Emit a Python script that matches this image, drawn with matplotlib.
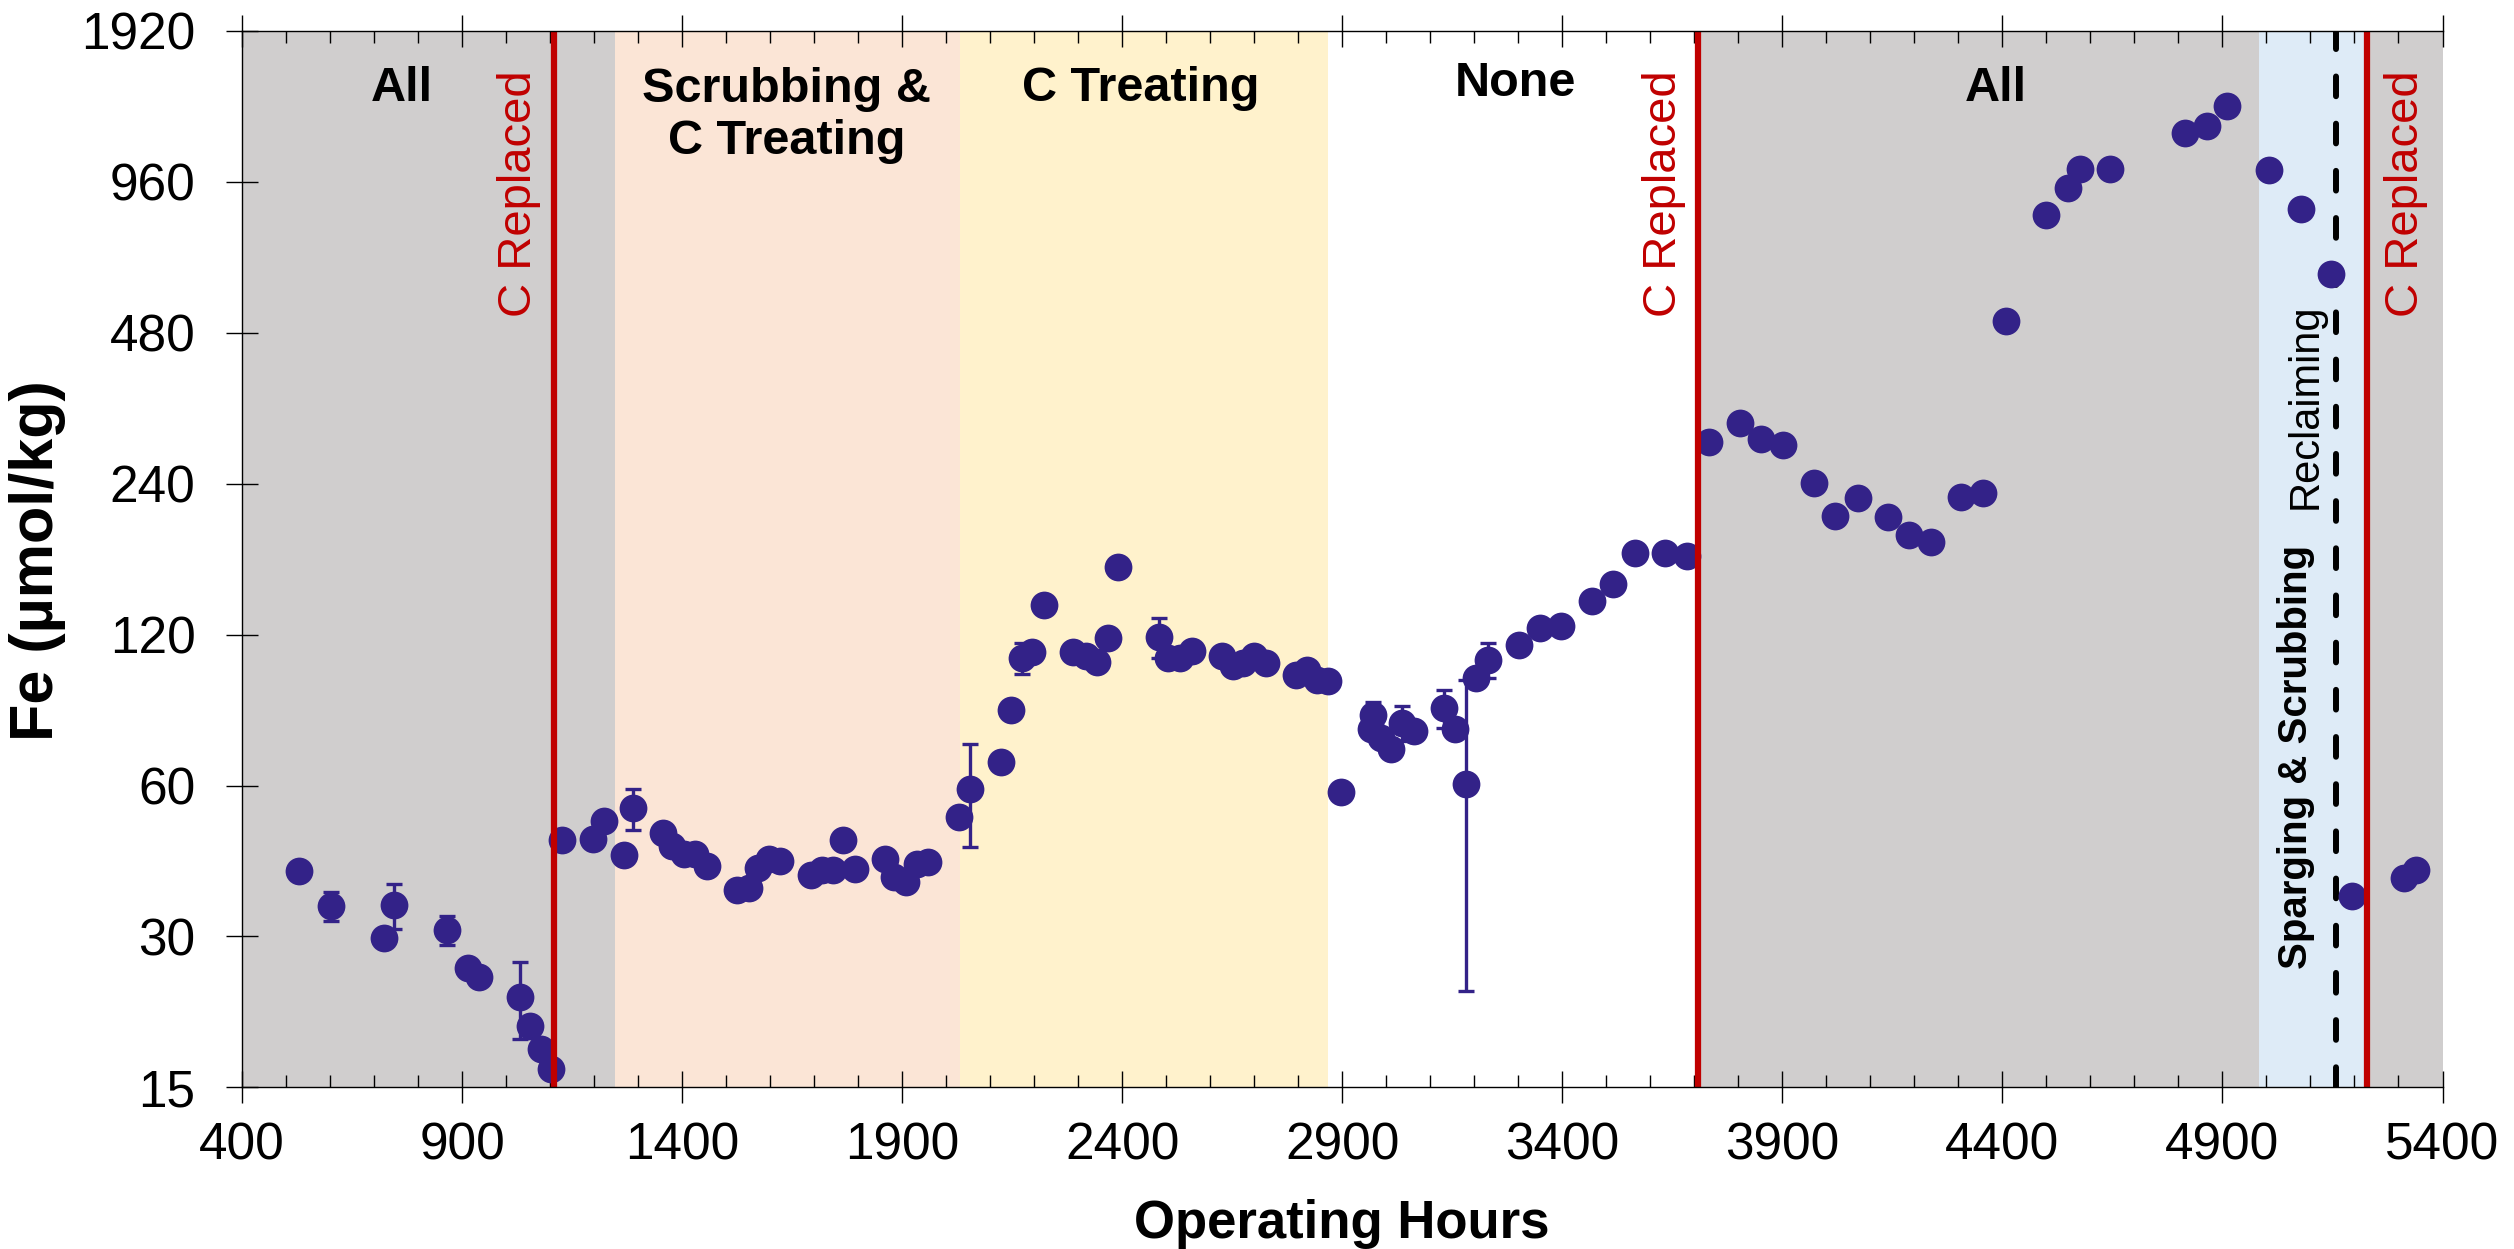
import matplotlib
matplotlib.use('Agg')
import matplotlib.pyplot as plt
from matplotlib.ticker import FixedLocator, MultipleLocator, NullLocator
from matplotlib import font_manager
import matplotlib.transforms as mtransforms
import numpy as np

plt.rcParams['font.family'] = ['Liberation Sans', 'DejaVu Sans']

# ---------------- data ----------------
hours = [529, 602, 723, 746, 865, 913, 938, 1031, 1055, 1079, 1102,
         1127, 1198, 1222, 1268, 1289, 1356, 1378, 1405, 1428, 1456,
         1525, 1551, 1573, 1598, 1623, 1692, 1717, 1743, 1765, 1792,
         1860, 1882, 1908, 1934, 1959, 2028, 2054, 2124, 2147, 2172,
         2195, 2223, 2289, 2317, 2343, 2367, 2391, 2484, 2505, 2531,
         2558, 2627, 2651, 2675, 2700, 2727, 2794, 2819, 2842, 2867,
         2897, 2965, 2969, 2988, 3011, 3035, 3063, 3132, 3156, 3181,
         3204, 3232, 3302, 3350, 3398, 3467, 3516, 3566, 3634, 3683,
         3734, 3804, 3851, 3901, 3971, 4019, 4071, 4139, 4187, 4238,
         4307, 4355, 4408, 4500, 4549, 4576, 4645, 4816, 4864, 4910,
         5005, 5079, 5147, 5194, 5313, 5339]
fe = [40.6, 34.5, 29.8, 34.6, 30.9, 25.9, 24.9, 22.7, 19.9, 17.9, 16.3,
      46.8, 46.9, 51.0, 43.7, 54.0, 48.3, 45.5, 43.9, 43.9, 41.4,
      37.2, 37.5, 41.1, 42.8, 42.5, 39.8, 40.7, 40.7, 46.8, 40.8,
      42.8, 39.4, 38.6, 41.8, 42.3, 51.9, 59.0, 66.9, 84.7, 107.8,
      110.6, 137.7, 110.6, 108.8, 106.0, 118.0, 164.0, 118.7, 107.8, 107.8,
      111.3, 108.8, 103.7, 105.3, 108.8, 105.3, 99.8, 102.0, 97.2, 96.8,
      58.2, 77.7, 83.0, 74.6, 71.1, 80.0, 76.9, 85.6, 77.7, 60.4,
      98.3, 106.9, 114.5, 123.5, 125.0, 140.0, 151.7, 174.8, 174.8, 172.0,
      291.0, 317.0, 295.0, 286.0, 241.0, 207.0, 225.0, 206.0, 189.4, 183.4,
      226.0, 230.0, 506.0, 823.0, 933.0, 1018.0, 1018.0, 1200.0, 1240.0, 1361.0,
      1014.0, 849.0, 628.0, 36.2, 39.2, 40.7]
fe_err = [0, 2.3, 0, 3.6, 2.0, 0, 0, 4.0, 0, 0, 0,
          0, 0, 0, 0, 5.0, 0, 0, 0, 0, 0,
          0, 0, 0, 0, 0, 0, 0, 0, 0, 0,
          0, 0, 0, 0, 0, 0, 13.7, 0, 0, 7.6,
          0, 0, 0, 0, 0, 0, 0, 10.8, 0, 0,
          0, 0, 0, 0, 0, 0, 0, 0, 0, 0,
          0, 0, 5.2, 0, 2.4, 6.3, 0, 7.5, 0, 37.0,
          0, 8.8, 0, 0, 0, 0, 0, 0, 0, 0,
          0, 0, 0, 0, 0, 0, 0, 0, 0, 0,
          0, 0, 0, 0, 0, 0, 0, 0, 0, 0,
          0, 0, 0, 0, 0, 0]

region_bounds = [400, 1248, 2031, 2867, 3709, 4982, 5228, 5400]
region_colors = ['#D0CECE', '#FBE5D6', '#FFF2CC', '#FFFFFF', '#D0CECE', '#DEEBF7', '#D0CECE']
region_labels = ['All', 'Scrubbing &\nC Treating', 'C Treating', 'None', 'All']
region_label_x = [763, 1637, 2443, 3293, 4385]
region_label_y = [0.967, 0.966, 0.967, 0.971, 0.967]

replaced_hours = [1108, 3709, 5228]
replaced_label_x = [1030, 3632, 5318]
reclaim_hour = 5158

y_ticks = [15, 30, 60, 120, 240, 480, 960, 1920]
x_ticks = list(range(400, 5401, 500))

# ---------------- figure ----------------
W, H = 2514, 1249
fig = plt.figure(figsize=(W / 100, H / 100), dpi=100)
ax = fig.add_axes([242.1 / W, 1 - 1087.4 / H, 2200.4 / W, 1056.6 / H])

ax.set_xlim(400, 5400)
ax.set_yscale('log', base=2)
ax.set_ylim(15, 1920)

for i, c in enumerate(region_colors):
    ax.axvspan(region_bounds[i], region_bounds[i + 1], color=c, lw=0, zorder=0)

ax.axvline(reclaim_hour, color='black', lw=4.3, linestyle=(0, (3.3, 4.6)),
           dash_capstyle='round', zorder=2)

hrs = np.array(hours, dtype=float)
val = np.array(fe, dtype=float)
err = np.array(fe_err, dtype=float)
m = err > 0
ax.errorbar(hrs[m], val[m], yerr=err[m], fmt='none', ecolor='#332288',
            elinewidth=2.4, capsize=5.5, capthick=2.4, zorder=3)
ax.plot(hrs, val, 'o', color='#332288', ms=20, mew=0, zorder=4)

for xr in replaced_hours:
    ax.axvline(xr, color='#C00000', lw=4.5, zorder=5)

# ticks
ax.xaxis.set_major_locator(FixedLocator(x_ticks))
ax.xaxis.set_minor_locator(MultipleLocator(100))
ax.yaxis.set_major_locator(FixedLocator(y_ticks))
ax.yaxis.set_minor_locator(NullLocator())
ax.set_yticklabels([str(t) for t in y_ticks])
ax.set_xticklabels([str(t) for t in x_ticks])

ax.tick_params(axis='x', which='major', direction='inout', length=23, width=1.0,
               top=True, bottom=True, labelsize=37, pad=13)
ax.tick_params(axis='x', which='minor', direction='in', length=8.6, width=1.0,
               top=True, bottom=True)
ax.tick_params(axis='y', which='major', direction='inout', length=23, width=1.0,
               left=True, right=False, labelsize=37, pad=22)

for s in ['left', 'top', 'bottom']:
    ax.spines[s].set_linewidth(1.0)
    ax.spines[s].set_zorder(6)
ax.spines['right'].set_visible(False)

# region labels
trans = mtransforms.blended_transform_factory(ax.transData, ax.transAxes)
for lab, xl, yl in zip(region_labels, region_label_x, region_label_y):
    ax.text(xl, yl, lab, transform=trans, ha='center', va='top',
            fontsize=35, fontweight='bold', color='black', zorder=7,
            linespacing=1.2)

for xl in replaced_label_x:
    ax.text(xl, 0.963, 'C Replaced', transform=trans, ha='center', va='top',
            rotation=90, fontsize=34, color='#C00000', zorder=7)

ax.text(5090, 0.645, 'Reclaiming', transform=trans, ha='center', va='center',
        rotation=90, fontsize=30, color='black', zorder=7)

available = {f.name for f in font_manager.fontManager.ttflist}
if 'Liberation Sans Narrow' in available:
    sp_family, sp_size = ['Liberation Sans Narrow', 'DejaVu Sans'], 33
else:
    sp_family, sp_size = ['Liberation Sans', 'DejaVu Sans'], 29
ax.text(5066, 0.313, 'Sparging & Scrubbing', transform=trans, ha='center',
        va='center', rotation=90, fontsize=sp_size, fontweight='bold',
        color='black', zorder=7, family=sp_family)

# axis labels
fig.text(1342 / W, 1 - 1238 / H, 'Operating Hours', ha='center', va='baseline',
         fontsize=38, fontweight='bold')
fig.text(38 / W, 1 - 561 / H, 'Fe (µmol/kg)', ha='center', va='center',
         rotation=90, fontsize=44, fontweight='bold')

fig.savefig('out.png', dpi=100)
